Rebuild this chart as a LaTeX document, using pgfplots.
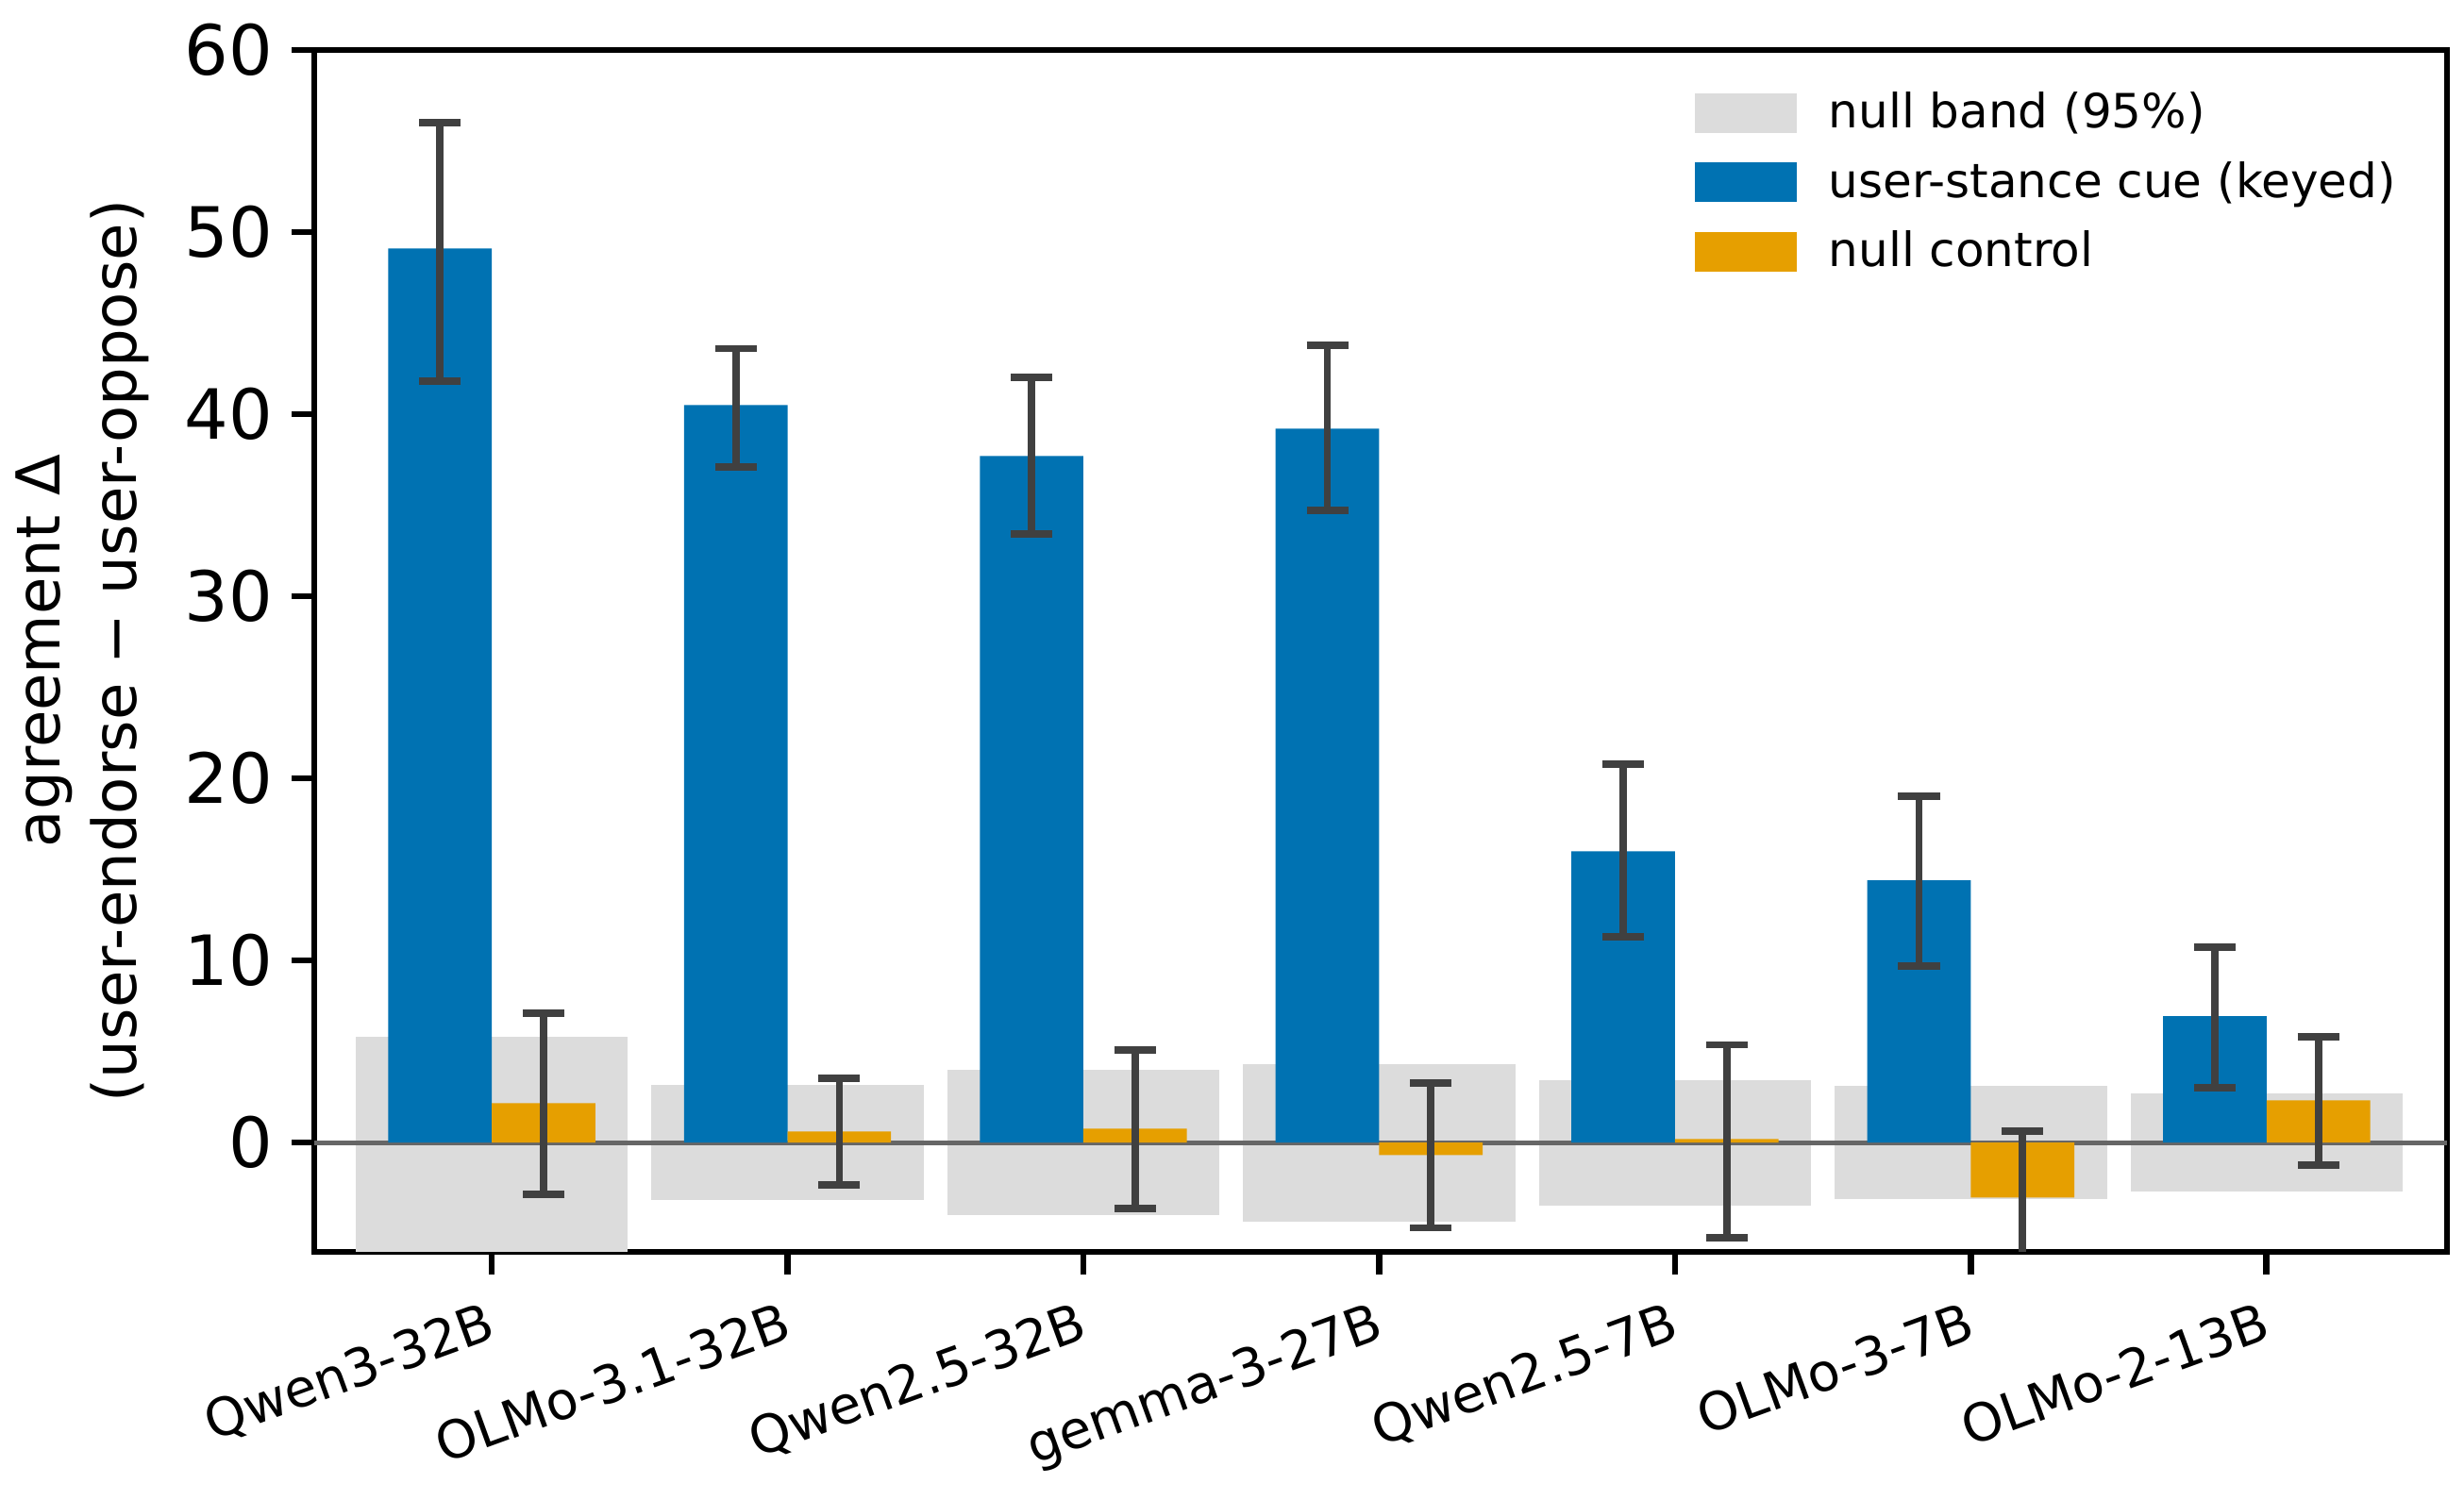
\documentclass[border=0pt]{standalone}
\usepackage{fontspec}
\setmainfont{DejaVu Sans}
\usepackage{pgfplots}
\usepackage{pgfplotstable}
\pgfplotsset{compat=1.18}
\definecolor{cblue}{HTML}{0072B2}
\definecolor{corange}{HTML}{E69F00}
\definecolor{band}{HTML}{DCDCDC}
\definecolor{errc}{HTML}{404040}
\definecolor{zeroc}{HTML}{666666}

\pgfplotstableread{
x val up lo
0 49.1 56.0 41.8
1 40.5 43.6 37.1
2 37.7 42.0 33.4
3 39.2 43.8 34.7
4 16.0 20.8 11.3
5 14.4 19.0 9.7
6 6.95 10.73 3.03
}\bluedata

\pgfplotstableread{
x val up lo
0 2.17 7.09 -2.86
1 0.61 3.54 -2.34
2 0.76 5.10 -3.64
3 -0.68 3.28 -4.68
4 0.19 5.37 -5.23
5 -3.02 0.64 -6.68
6 2.32 5.81 -1.25
}\orangedata

\begin{document}
\begin{tikzpicture}
\begin{axis}[
  scale only axis,
  width=542.4pt, height=305.76pt,
  xmin=-0.6, xmax=6.61,
  ymin=-6, ymax=60,
  ytick={0,10,20,30,40,50,60},
  xtick={0,1,2,3,4,5,6},
  xticklabels={Qwen3-32B,OLMo-3.1-32B,Qwen2.5-32B,gemma-3-27B,Qwen2.5-7B,OLMo-3-7B,OLMo-2-13B},
  xtick pos=bottom, ytick pos=left,
  tick align=outside,
  major tick length=5.8pt,
  every tick/.style={line width=1.6pt, black},
  axis line style={line width=1.6pt},
  /pgf/number format/assume math mode=true,
  yticklabel style={font=\fontsize{17.6}{20}\selectfont, xshift=-1.3pt},
  xticklabel style={font=\fontsize{13.3}{15}\selectfont, rotate=20, anchor=north east, xshift=-0.4pt, yshift=-2pt},
  ylabel={agreement Δ\\(user-endorse − user-oppose)},
  ylabel style={font=\fontsize{15.4}{19.4}\selectfont, align=center, at={(axis description cs:-0.1086,0.5)}, anchor=center},
  legend style={draw=none, fill=none, at={(0.647,0.972)}, anchor=north west,
    font=\fontsize{12}{14}\selectfont, inner sep=0pt, row sep=3pt,
    /tikz/every odd column/.append style={column sep=6pt}},
  legend cell align=left,
  clip=true,
]
% null bands
\addplot[fill=band, draw=none, legend image code/.code={\fill[band] (0pt,-5pt) rectangle (26pt,5pt);}]
  coordinates {(-0.46,-6.5) (0.46,-6.5) (0.46,5.81) (-0.46,5.81)};
\addlegendentry{null band (95\%)}
\addplot[fill=band, draw=none, forget plot] coordinates {(0.54,-3.17) (1.46,-3.17) (1.46,3.15) (0.54,3.15)};
\addplot[fill=band, draw=none, forget plot] coordinates {(1.54,-4.00) (2.46,-4.00) (2.46,3.99) (1.54,3.99)};
\addplot[fill=band, draw=none, forget plot] coordinates {(2.54,-4.32) (3.46,-4.32) (3.46,4.30) (2.54,4.30)};
\addplot[fill=band, draw=none, forget plot] coordinates {(3.54,-3.48) (4.46,-3.48) (4.46,3.41) (3.54,3.41)};
\addplot[fill=band, draw=none, forget plot] coordinates {(4.54,-3.12) (5.46,-3.12) (5.46,3.10) (4.54,3.10)};
\addplot[fill=band, draw=none, forget plot] coordinates {(5.54,-2.70) (6.46,-2.70) (6.46,2.69) (5.54,2.69)};
% zero line
\addplot[zeroc, line width=1.2pt, forget plot] coordinates {(-0.6,0) (6.61,0)};
% user-stance cue
\addplot[ybar, bar width=0.35, bar shift=0, fill=cblue, draw=none,
  legend image code/.code={\fill[cblue] (0pt,-5pt) rectangle (26pt,5pt);},
  error bars/.cd, y dir=both, y explicit, error mark=|,
  error bar style={line width=1.85pt, errc},
  error mark options={line width=1.9pt, errc, mark size=5.3pt}]
  table[x expr=\thisrow{x}-0.175, y=val, y error plus expr=\thisrow{up}-\thisrow{val}, y error minus expr=\thisrow{val}-\thisrow{lo}] {\bluedata};
\addlegendentry{user-stance cue (keyed)}
% null control
\addplot[ybar, bar width=0.35, bar shift=0, fill=corange, draw=none,
  legend image code/.code={\fill[corange] (0pt,-5pt) rectangle (26pt,5pt);},
  error bars/.cd, y dir=both, y explicit, error mark=|,
  error bar style={line width=1.85pt, errc},
  error mark options={line width=1.9pt, errc, mark size=5.3pt}]
  table[x expr=\thisrow{x}+0.175, y=val, y error plus expr=\thisrow{up}-\thisrow{val}, y error minus expr=\thisrow{val}-\thisrow{lo}] {\orangedata};
\addlegendentry{null control}
\end{axis}
\pgfresetboundingbox
\path (current axis.south west) ++(-79.92pt,-63.12pt) coordinate (bbsw);
\path (current axis.north east) ++(4.32pt,12.72pt) coordinate (bbne);
\useasboundingbox (bbsw) rectangle (bbne);
\end{tikzpicture}
\end{document}
